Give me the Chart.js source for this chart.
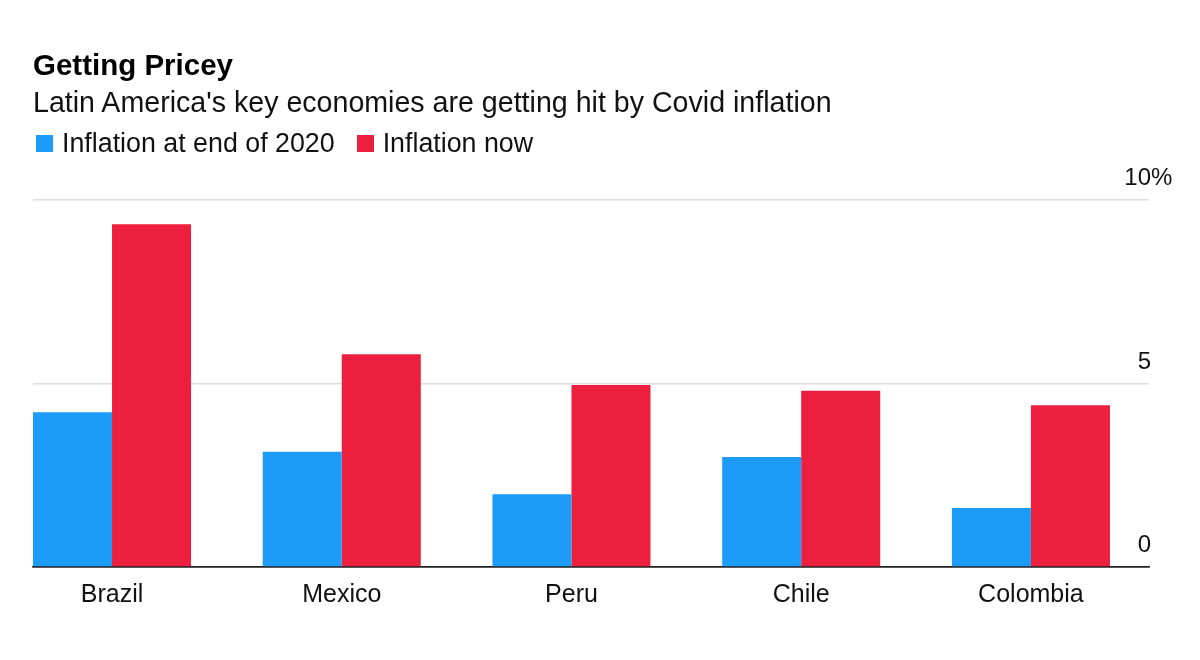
<!DOCTYPE html>
<html>
<head>
<meta charset="utf-8">
<script src="https://cdn.jsdelivr.net/npm/chart.js@4.4.1/dist/chart.umd.min.js"></script>
<style>
    body { margin: 0; background: #fff; font-family: "Liberation Sans", Arial, sans-serif; color: #111; }
    #wrap { position: relative; width: 1200px; height: 660px; }
    #grafico { position: absolute; left: 0; top: 0; }
    #titulo { position: absolute; left: 33px; top: 50px; font-size: 29.5px; font-weight: bold; line-height: 1; color: #000; }
    #subtitulo { position: absolute; left: 33px; top: 88px; font-size: 28.6px; line-height: 1; }
    #leyenda { position: absolute; left: 36px; top: 130px; font-size: 26.8px; line-height: 1; display: flex; white-space: nowrap; }
    .item { display: flex; align-items: center; margin-right: 22px; }
    .caja { width: 17px; height: 17px; margin-right: 9px; }
</style>
</head>
<body>
<div id="wrap">
    <canvas id="grafico" width="1200" height="660"></canvas>
    <div id="titulo">Getting Pricey</div>
    <div id="subtitulo">Latin America's key economies are getting hit by Covid inflation</div>
    <div id="leyenda"></div>
</div>
<script>
const categorias = ["Brazil", "Mexico", "Peru", "Chile", "Colombia"];
const series = ["Inflation at end of 2020", "Inflation now"];
const inflacion2020 = [4.22, 3.14, 1.98, 3.0, 1.61];
const inflacionAhora = [9.34, 5.80, 4.96, 4.80, 4.41];
const yTicks = [0, 5, 10];
const yEtiquetas = ["0", "5", "10%"];

const azul = "#1d9bf9";
const rojo = "#ec1f3f";
const fuente = '"Liberation Sans", Arial, sans-serif';

// leyenda en html
const leyenda = document.getElementById("leyenda");
[azul, rojo].forEach((color, i) => {
    const item = document.createElement("div");
    item.className = "item";
    item.innerHTML = `<span class="caja" style="background:${color}"></span><span>${series[i]}</span>`;
    leyenda.appendChild(item);
});

// etiquetas del eje y encima de cada linea, con el % colgando a la derecha
const etiquetasY = {
    id: "etiquetasY",
    afterDraw(chart) {
        const { ctx, chartArea, scales: { y } } = chart;
        ctx.save();
        ctx.font = `24px ${fuente}`;
        ctx.fillStyle = "#111";
        ctx.textBaseline = "alphabetic";
        yTicks.forEach((v, i) => {
            const py = y.getPixelForValue(v) - 15;
            const texto = yEtiquetas[i];
            ctx.textAlign = "right";
            ctx.fillText(texto.replace("%", ""), chartArea.right + 2, py);
            if (texto.endsWith("%")) {
                ctx.textAlign = "left";
                ctx.fillText("%", chartArea.right + 2, py);
            }
        });
        ctx.restore();
    }
};

const aPuntos = valores => valores.map((v, i) => ({ x: i, y: v }));

new Chart(document.getElementById("grafico"), {
    type: "bar",
    data: {
        datasets: [
            { label: series[0], data: aPuntos(inflacion2020), backgroundColor: azul },
            { label: series[1], data: aPuntos(inflacionAhora), backgroundColor: rojo }
        ]
    },
    options: {
        responsive: false,
        animation: false,
        layout: { padding: { left: 33, right: 51, top: 200, bottom: 37 } },
        datasets: { bar: { categoryPercentage: 0.688, barPercentage: 1, borderWidth: 0 } },
        scales: {
            x: {
                type: "linear",
                min: -0.344,
                max: 4.514,
                offset: false,
                afterBuildTicks: s => { s.ticks = categorias.map((c, i) => ({ value: i })); },
                ticks: {
                    callback: v => categorias[v],
                    autoSkip: false,
                    maxRotation: 0,
                    minRotation: 0,
                    padding: 13,
                    color: "#111",
                    font: { family: fuente, size: 25 }
                },
                grid: { display: false, drawTicks: false },
                border: { display: true, color: "#222", width: 1.5 }
            },
            y: {
                position: "right",
                min: 0,
                max: 10,
                afterBuildTicks: s => { s.ticks = yTicks.map(v => ({ value: v })); },
                ticks: { display: false },
                grid: {
                    drawTicks: false,
                    color: c => c.tick.value === 0 ? "#222" : "#dcdcdc",
                    lineWidth: 1.5
                },
                border: { display: false }
            }
        },
        plugins: {
            legend: { display: false },
            tooltip: { enabled: false }
        }
    },
    plugins: [etiquetasY]
});
</script>
</body>
</html>
